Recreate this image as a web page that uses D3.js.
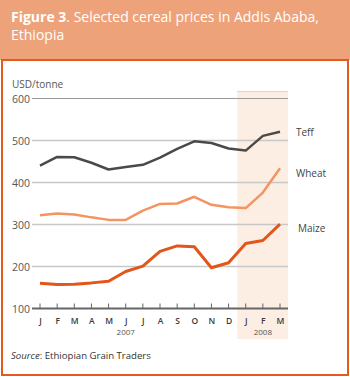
<!DOCTYPE html>
<html lang="en">
<head>
<meta charset="UTF-8">
<title>Selected cereal prices in Addis Ababa</title>
<script src="https://d3js.org/d3.v7.min.js"></script>
<style>
  body { margin: 0; background: #fff; }
  text { font-family: "Open Sans", sans-serif; }
</style>
</head>
<body>
<script>
var months = ["J","F","M","A","M","J","J","A","S","O","N","D","J","F","M"];
var teff  = [440, 461, 460, 447, 431, 437, 442, 459, 480, 498, 494, 481, 476, 511, 521];
var wheat = [322, 326, 324, 317, 311, 311, 333, 349, 350, 366, 347, 341, 339, 376, 434];
var maize = [160, 157, 158, 161, 165, 188, 201, 236, 249, 247, 197, 209, 255, 262, 301];
var yTicks = [100, 200, 300, 400, 500, 600];
var years = [{label: "2007", at: 5}, {label: "2008", at: 13}];

var width = 350, height = 377;
var svg = d3.select("body").append("svg")
    .attr("width", width).attr("height", height);

// header band
svg.append("rect").attr("x", 0).attr("y", 0).attr("width", width).attr("height", 60)
    .attr("fill", "#eea27a");
svg.append("rect").attr("x", 2).attr("y", 60).attr("width", 346).attr("height", 315)
    .attr("fill", "#fff").attr("stroke", "#e25a1c").attr("stroke-width", 2);

var title = svg.append("text").attr("x", 11).attr("y", 22)
    .attr("fill", "#fff").style("font-size", "14px");
title.append("tspan").style("font-weight", "bold").text("Figure 3");
title.append("tspan").text(". Selected cereal prices in Addis Ababa,");
svg.append("text").attr("x", 11).attr("y", 40).attr("fill", "#fff")
    .style("font-size", "14px").text("Ethiopia");

var x = d3.scalePoint().domain(d3.range(months.length)).range([40, 280]);
var y = d3.scaleLinear().domain([100, 600]).range([308.5, 98.5]);
var left = 32, right = 288;

// 2008 shading
svg.append("rect")
    .attr("x", x(12) - 8.5).attr("y", 91)
    .attr("width", right - (x(12) - 8.5)).attr("height", 339 - 91)
    .attr("fill", "#fdeee4");
svg.append("line").attr("x1", x(12) - 8.5).attr("x2", right)
    .attr("y1", 91.5).attr("y2", 91.5).attr("stroke", "#e3d3c8").attr("stroke-width", 1);

// gridlines
svg.selectAll(".grid").data(yTicks.filter(function(d){ return d > 100; })).enter()
    .append("line")
    .attr("x1", left).attr("x2", right)
    .attr("y1", function(d){ return y(d); }).attr("y2", function(d){ return y(d); })
    .attr("stroke", function(d){ return d === 600 ? "#9a9a9a" : "#c8c8c8"; })
    .attr("stroke-width", function(d){ return d === 600 ? 1 : 1.5; });

// y labels
svg.selectAll(".ylab").data(yTicks).enter()
    .append("text")
    .attr("x", 12).attr("y", function(d){ return y(d) + 4; })
    .attr("fill", "#555").style("font-size", "10.5px")
    .text(function(d){ return d; });
svg.append("text").attr("x", 12).attr("y", 88)
    .attr("fill", "#555").style("font-size", "10px").text("USD/tonne");

// x axis
var xAxis = d3.axisBottom(x).tickSize(0).tickFormat(function(i){ return months[i]; });
var gx = svg.append("g").attr("transform", "translate(0," + y(100) + ")").call(xAxis);
gx.select(".domain").remove();
gx.selectAll("text").attr("dy", null).attr("y", 15)
    .attr("fill", "#3a3a3a").style("font-size", "8.5px").style("font-weight", "600")
    .style("font-family", "'Open Sans', sans-serif");
svg.append("line").attr("x1", left).attr("x2", right)
    .attr("y1", y(100)).attr("y2", y(100)).attr("stroke", "#666").attr("stroke-width", 2);
svg.selectAll(".tick-up").data(d3.range(months.length)).enter()
    .append("line")
    .attr("x1", function(i){ return x(i); }).attr("x2", function(i){ return x(i); })
    .attr("y1", y(100)).attr("y2", y(100) - 5)
    .attr("stroke", "#666").attr("stroke-width", 1);

svg.selectAll(".year").data(years).enter()
    .append("text")
    .attr("x", function(d){ return x(d.at); }).attr("y", 335)
    .attr("text-anchor", "middle").attr("fill", "#555").style("font-size", "8px")
    .text(function(d){ return d.label; });

// lines
var line = d3.line().x(function(d, i){ return x(i); }).y(function(d){ return y(d); });
var series = [
    {name: "Teff", values: teff, color: "#4a4a4a", width: 2.5},
    {name: "Wheat", values: wheat, color: "#f39462", width: 2.5},
    {name: "Maize", values: maize, color: "#e2561a", width: 3}
];
svg.selectAll(".series").data(series).enter()
    .append("path")
    .attr("d", function(d){ return line(d.values); })
    .attr("fill", "none")
    .attr("stroke", function(d){ return d.color; })
    .attr("stroke-width", function(d){ return d.width; })
    .attr("stroke-linejoin", "round");

// end labels
var labelY = {Teff: 136, Wheat: 177, Maize: 232};
svg.selectAll(".slab").data(series).enter()
    .append("text")
    .attr("x", function(d){ return d.name === "Maize" ? 298 : 296; })
    .attr("y", function(d){ return labelY[d.name]; })
    .attr("fill", "#444").style("font-size", "10px")
    .text(function(d){ return d.name; });

// source
var src = svg.append("text").attr("x", 11).attr("y", 359)
    .attr("fill", "#333").style("font-size", "9.6px");
src.append("tspan").style("font-style", "italic").text("Source");
src.append("tspan").text(": Ethiopian Grain Traders");
</script>
</body>
</html>
